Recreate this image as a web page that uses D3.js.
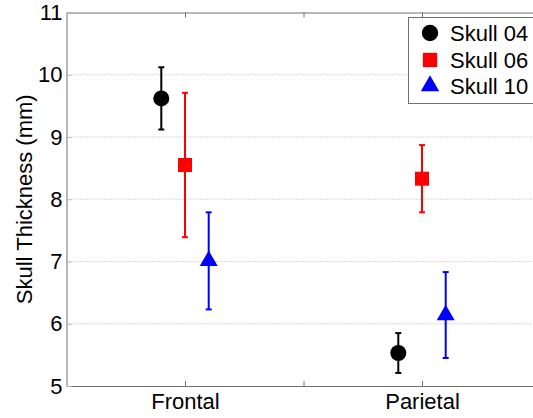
<!DOCTYPE html>
<html>
<head>
<meta charset="utf-8">
<script src="https://cdn.jsdelivr.net/npm/d3@7"></script>
<style>
  html, body { margin: 0; padding: 0; background: #fff; }
  svg { display: block; }
  text { font-family: "Liberation Sans", Arial, sans-serif; }
</style>
</head>
<body>
<svg id="chart" width="533" height="418"></svg>
<script>
// ---- data ----
const categories = ["Frontal", "Parietal"];
const seriesNames = ["Skull 04", "Skull 06", "Skull 10"];
const skull04Mean = [9.62, 5.53];
const skull04Err  = [0.50, 0.32];
const skull06Mean = [8.55, 8.33];
const skull06Err  = [1.16, 0.54];
const skull10Mean = [7.01, 6.14];
const skull10Err  = [0.78, 0.69];
const yTicks = [5, 6, 7, 8, 9, 10, 11];
const xTicks = [1, 1.5, 2];
const yLabel = "Skull Thickness (mm)";

const seriesColors = ["#000000", "#ff0000", "#0000ff"];
const seriesSymbols = [d3.symbolCircle, d3.symbolSquare, d3.symbolTriangle];
const symbolSizes = [201, 196, 140];
const seriesOffsets = [-0.1, 0, 0.1];

const series = [
  { name: seriesNames[0], mean: skull04Mean, err: skull04Err },
  { name: seriesNames[1], mean: skull06Mean, err: skull06Err },
  { name: seriesNames[2], mean: skull10Mean, err: skull10Err }
];

// ---- layout ----
const svg = d3.select("#chart");
const pLeft = 66.5, pRight = 540.5, pTop = 12.5, pBottom = 386;
const axisColor = "#707070";
const fs = 22;

const x = d3.scaleLinear().domain([0.5, 2.5]).range([pLeft, pRight]);
const y = d3.scaleLinear().domain([5, 11]).range([pBottom, pTop]);

// grid lines
svg.append("g").selectAll("line")
  .data(yTicks.filter(t => t > 5 && t < 11))
  .join("line")
  .attr("x1", pLeft + 5).attr("x2", pRight)
  .attr("y1", d => y(d)).attr("y2", d => y(d))
  .attr("stroke", "#b4b4b4")
  .attr("stroke-width", 1)
  .attr("stroke-dasharray", "1,2");

// axes (ticks inward)
const xAxisB = d3.axisBottom(x).tickValues(xTicks).tickSizeInner(-5).tickSizeOuter(0)
  .tickFormat(d => d === 1 ? categories[0] : d === 2 ? categories[1] : "");
const gxb = svg.append("g").attr("transform", `translate(0,${pBottom})`).call(xAxisB);
gxb.select(".domain").attr("stroke", axisColor).attr("stroke-width", 1);
gxb.selectAll(".tick line").attr("stroke", axisColor);
gxb.selectAll(".tick text").attr("fill", "#000").attr("font-size", fs)
  .attr("font-family", "Liberation Sans, Arial, sans-serif").attr("y", 7).attr("dy", "0.71em");

const xAxisT = d3.axisTop(x).tickValues(xTicks).tickSizeInner(-5).tickSizeOuter(0).tickFormat("");
const gxt = svg.append("g").attr("transform", `translate(0,${pTop})`).call(xAxisT);
gxt.select(".domain").attr("stroke", axisColor);
gxt.selectAll(".tick line").attr("stroke", axisColor);

const yAxisL = d3.axisLeft(y).tickValues(yTicks).tickSizeInner(-5).tickSizeOuter(0).tickFormat(d3.format("d"));
const gyl = svg.append("g").attr("transform", `translate(${pLeft},0)`).call(yAxisL);
gyl.select(".domain").attr("stroke", axisColor);
gyl.selectAll(".tick line").attr("stroke", "#b4b4b4");
gyl.selectAll(".tick text").attr("fill", "#000").attr("font-size", fs)
  .attr("font-family", "Liberation Sans, Arial, sans-serif").attr("x", -4);

// y label
svg.append("text")
  .attr("transform", `translate(32,${(pTop + pBottom) / 2}) rotate(-90)`)
  .attr("text-anchor", "middle")
  .attr("font-size", fs)
  .attr("fill", "#000")
  .text(yLabel);

// error bars and markers
const capHalf = 3;
series.forEach((s, si) => {
  const g = svg.append("g");
  const pts = categories.map((c, i) => ({ xv: i + 1 + seriesOffsets[si], m: s.mean[i], e: s.err[i] }));
  g.selectAll("line.v").data(pts).join("line")
    .attr("x1", d => x(d.xv)).attr("x2", d => x(d.xv))
    .attr("y1", d => y(d.m + d.e)).attr("y2", d => y(d.m - d.e))
    .attr("stroke", seriesColors[si]).attr("stroke-width", 2);
  ["top", "bot"].forEach(k => {
    g.selectAll("line.c" + k).data(pts).join("line")
      .attr("x1", d => x(d.xv) - capHalf).attr("x2", d => x(d.xv) + capHalf)
      .attr("y1", d => y(k === "top" ? d.m + d.e : d.m - d.e))
      .attr("y2", d => y(k === "top" ? d.m + d.e : d.m - d.e))
      .attr("stroke", seriesColors[si]).attr("stroke-width", 2);
  });
  g.selectAll("path").data(pts).join("path")
    .attr("d", d3.symbol().type(seriesSymbols[si]).size(symbolSizes[si]))
    .attr("transform", d => `translate(${x(d.xv)},${y(d.m)})`)
    .attr("fill", seriesColors[si]);
});

// legend
const lg = svg.append("g");
lg.append("rect").attr("x", 408.5).attr("y", 17.5).attr("width", 140).attr("height", 86)
  .attr("fill", "#fff").attr("stroke", axisColor).attr("stroke-width", 1);
const rowY = [33, 60, 86];
series.forEach((s, si) => {
  lg.append("path")
    .attr("d", d3.symbol().type(seriesSymbols[si]).size(symbolSizes[si] * 1.05)())
    .attr("transform", `translate(430,${rowY[si]})`)
    .attr("fill", seriesColors[si]);
  lg.append("text").attr("x", 450).attr("y", rowY[si]).attr("dy", "0.36em")
    .attr("font-size", fs).attr("fill", "#000").text(s.name);
});
</script>
</body>
</html>
